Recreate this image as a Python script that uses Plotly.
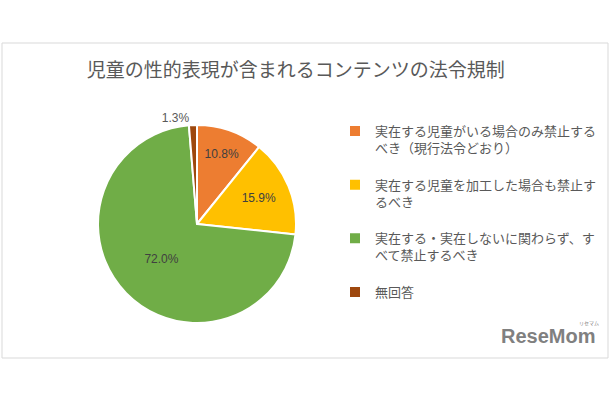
import plotly.graph_objects as go

title = "児童の性的表現が含まれるコンテンツの法令規制"
categories = [
    "実在する児童がいる場合のみ禁止する<br>べき（現行法令どおり）<br> ",
    "実在する児童を加工した場合も禁止す<br>るべき<br> ",
    "実在する・実在しないに関わらず、す<br>べて禁止するべき<br> ",
    "無回答",
]
values = [10.8, 15.9, 72.0, 1.3]
colors = ["#ED7D31", "#FFC000", "#70AD47", "#9E480E"]
text_pos = ["inside", "inside", "inside", "outside"]

W, H = 610, 400
cx, cy, r = 197, 224, 99
pad = 24

fig = go.Figure(go.Pie(
    labels=categories,
    values=values,
    sort=False,
    direction="clockwise",
    rotation=0,
    marker=dict(colors=colors, line=dict(color="white", width=2)),
    texttemplate="%{value:.1f}%",
    textposition=text_pos,
    insidetextorientation="horizontal",
    insidetextfont=dict(color="#404040", size=12, family="Liberation Sans"),
    outsidetextfont=dict(color="#595959", size=12, family="Liberation Sans"),
    domain=dict(x=[(cx - r) / W, (cx + r) / W],
                y=[(H - cy - r - pad) / H, (H - cy + r + pad) / H]),
    hoverinfo="skip",
))

fig.update_layout(
    width=W, height=H,
    margin=dict(l=0, r=0, t=0, b=0),
    paper_bgcolor="white",
    plot_bgcolor="white",
    title=dict(text=title, x=0.485, xanchor="center", y=(H - 70) / H, yanchor="middle",
               font=dict(family="Noto Sans CJK JP", size=19, color="#595959")),
    legend=dict(x=(375 - 40) / W, xanchor="left", y=(H - 116) / H, yanchor="top",
                valign="top",
                font=dict(family="Liberation Sans, Noto Sans CJK JP", size=13, color="#595959"),
                bgcolor="rgba(0,0,0,0)", traceorder="normal"),
    shapes=[dict(type="rect", xref="paper", yref="paper",
                 x0=2 / W, x1=608 / W, y0=(H - 358) / H, y1=(H - 43) / H,
                 line=dict(color="#d9d9d9", width=1), fillcolor="rgba(0,0,0,0)", layer="below")],
    annotations=[
        dict(text="<b>ReseMom</b>", x=597 / W, y=(H - 336) / H, xref="paper", yref="paper",
             xanchor="right", yanchor="middle", showarrow=False,
             font=dict(family="Liberation Sans", size=20, color="#808080")),
        dict(text="リセマム", x=589 / W, y=(H - 323) / H, xref="paper", yref="paper",
             xanchor="center", yanchor="middle", showarrow=False,
             font=dict(family="Noto Sans CJK JP", size=5, color="#808080")),
    ],
)

fig.write_html("out.html")
